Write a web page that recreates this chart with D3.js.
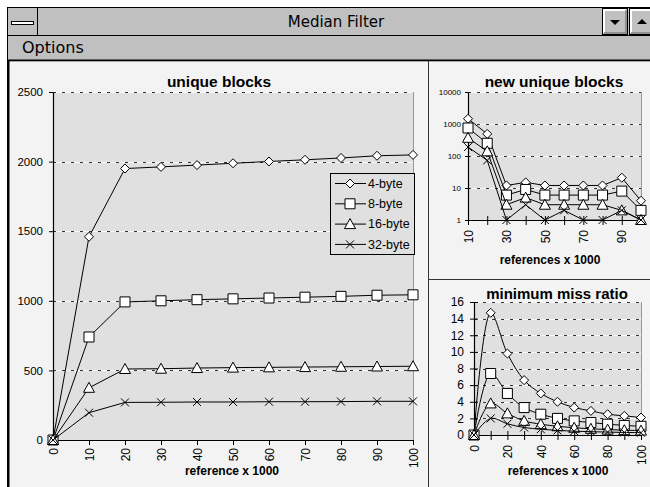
<!DOCTYPE html>
<html>
<head>
<meta charset="utf-8">
<script src="https://cdn.jsdelivr.net/npm/d3@7"></script>
<style>
  body { margin: 0; background: #fff; }
  svg { display: block; }
  text { font-family: "Liberation Sans", Arial, sans-serif; }
</style>
</head>
<body>
<div id="chart"></div>
<script>
// data
var refs = [0, 10, 20, 30, 40, 50, 60, 70, 80, 90, 100];
var blocks4 = [0, 1460, 1950, 1962, 1975, 1988, 2001, 2013, 2026, 2042, 2048];
var blocks8 = [0, 740, 992, 1000, 1008, 1014, 1020, 1026, 1032, 1040, 1043];
var blocks16 = [0, 375, 510, 512, 517, 520, 522, 524, 526, 528, 530];
var blocks32 = [0, 196, 270, 271, 273, 273, 275, 275, 276, 278, 278];

var newRefs = [10, 20, 30, 40, 50, 60, 70, 80, 90, 100];
var new4 = [1460, 490, 12, 15, 12, 12, 12, 12, 21, 4];
var new8 = [750, 250, 6, 9, 6, 6, 6, 6, 8, 2];
var new16 = [370, 140, 3, 5, 3, 3, 3, 3, 2, 1];
var new32 = [190, 73, 1, 3, 1, 2, 1, 1, 2, 1];

var miss4 = [0, 14.7, 9.8, 6.6, 5.0, 4.0, 3.3, 2.9, 2.5, 2.3, 2.1];
var miss8 = [0, 7.4, 5.0, 3.3, 2.5, 2.0, 1.7, 1.5, 1.3, 1.15, 1.05];
var miss16 = [0, 3.8, 2.6, 1.7, 1.3, 1.05, 0.87, 0.75, 0.65, 0.58, 0.53];
var miss32 = [0, 2.0, 1.35, 0.9, 0.7, 0.55, 0.46, 0.4, 0.35, 0.31, 0.28];

var seriesNames = ["4-byte", "8-byte", "16-byte", "32-byte"];
var shapes = ["diamond", "square", "triangle", "x"];

var blockTicks = [0, 500, 1000, 1500, 2000, 2500];
var logTicks = [1, 10, 100, 1000, 10000];
var missTicks = [0, 2, 4, 6, 8, 10, 12, 14, 16];

var width = 650;
var height = 487;
var plotFill = "#e0e0e0";
var paneFill = "#f3f3f3";
var chrome = "#c0c0c0";

var svg = d3
  .select("#chart")
  .append("svg")
  .attr("width", width)
  .attr("height", height);

// ---- window frame ----
svg.append("rect").attr("width", width).attr("height", height).attr("fill", "#fff");
svg.append("rect")
  .attr("x", 7.5).attr("y", 7.5).attr("width", 660).attr("height", 500)
  .attr("fill", chrome).attr("stroke", "#000");
svg.append("line").attr("x1", 7).attr("x2", width).attr("y1", 35.5).attr("y2", 35.5).attr("stroke", "#000");
svg.append("line").attr("x1", 37.5).attr("x2", 37.5).attr("y1", 8).attr("y2", 35).attr("stroke", "#000");
svg.append("rect")
  .attr("x", 11.5).attr("y", 21.5).attr("width", 22).attr("height", 3)
  .attr("fill", "#fff").attr("stroke", "#000");

svg.append("text")
  .attr("x", 336).attr("y", 27)
  .attr("text-anchor", "middle")
  .style("font-family", "'DejaVu Sans', sans-serif")
  .style("font-size", "15px")
  .text("Median Filter");

function button(x, up) {
  var b = svg.append("g").attr("transform", "translate(" + x + ",8)");
  b.append("rect").attr("x", 0.5).attr("y", 0.5).attr("width", 25).attr("height", 26)
    .attr("fill", chrome).attr("stroke", "#000");
  b.append("path").attr("d", "M2,25V2H24").attr("fill", "none").attr("stroke", "#fff").attr("stroke-width", 2);
  b.append("path").attr("d", "M2,25H24V2").attr("fill", "none").attr("stroke", "#808080").attr("stroke-width", 1.5);
  b.append("path")
    .attr("d", up ? "M8,16H18L13,11Z" : "M8,12H18L13,17Z")
    .attr("fill", "#000");
}
button(602, false);
button(629, true);

svg.append("text")
  .attr("x", 22).attr("y", 53)
  .style("font-family", "'DejaVu Sans', sans-serif")
  .style("font-size", "16px")
  .text("Options");

svg.append("rect").attr("x", 7).attr("y", 59.5).attr("width", 650).attr("height", 2).attr("fill", "#000");
svg.append("rect").attr("x", 9).attr("y", 61.5).attr("width", 641).attr("height", 430).attr("fill", paneFill);
svg.append("rect").attr("x", 7).attr("y", 60).attr("width", 2.5).attr("height", 430).attr("fill", "#000");
svg.append("line").attr("x1", 428.5).attr("x2", 428.5).attr("y1", 61).attr("y2", height).attr("stroke", "#333");
svg.append("line").attr("x1", 428).attr("x2", width).attr("y1", 279.5).attr("y2", 279.5).attr("stroke", "#333");

// ---- markers ----
function markerPath(shape, s) {
  if (shape === "diamond") return "M0," + -s + "L" + s + ",0L0," + s + "L" + -s + ",0Z";
  if (shape === "square") return "M" + -s + "," + -s + "H" + s + "V" + s + "H" + -s + "Z";
  if (shape === "triangle") return "M0," + (-s - 1) + "L" + (s + 1) + "," + s + "H" + (-s - 1) + "Z";
  return "M" + -s + "," + -s + "L" + s + "," + s + "M" + s + "," + -s + "L" + -s + "," + s;
}
var markerSize = { diamond: 4.5, square: 5, triangle: 4.5, x: 4 };

function drawSeries(g, xs, ys, x, y, shape, curve) {
  var pts = xs.map(function (d, i) { return [d, ys[i]]; });
  var line = d3.line()
    .x(function (d) { return x(d[0]); })
    .y(function (d) { return y(d[1]); });
  if (curve) line.curve(curve);
  g.append("path")
    .attr("d", line(pts))
    .attr("fill", "none")
    .attr("stroke", "#000")
    .attr("stroke-width", 1);
  g.selectAll(null)
    .data(pts)
    .enter()
    .append("path")
    .attr("transform", function (d) { return "translate(" + x(d[0]) + "," + y(d[1]) + ")"; })
    .attr("d", markerPath(shape, markerSize[shape]))
    .attr("fill", "#fff")
    .attr("stroke", "#000")
    .attr("stroke-width", 1);
}

function plotBack(x0, x1, y0, y1) {
  svg.append("rect")
    .attr("x", x0).attr("y", y1).attr("width", x1 - x0).attr("height", y0 - y1)
    .attr("fill", plotFill);
  svg.append("line")
    .attr("x1", x1 + 0.5).attr("x2", x1 + 0.5).attr("y1", y1).attr("y2", y0)
    .attr("stroke", "#999");
}

function grid(yScale, values, x0, x1) {
  values.forEach(function (v) {
    var yy = Math.round(yScale(v)) + 0.5;
    svg.append("line").attr("x1", x0).attr("x2", x1).attr("y1", yy).attr("y2", yy)
      .attr("stroke", "#fafafa");
    svg.append("line").attr("x1", x0).attr("x2", x1).attr("y1", yy).attr("y2", yy)
      .attr("stroke", "#333").attr("stroke-dasharray", "3,6");
  });
}

function styleAxis(a, size) {
  a.select(".domain").attr("stroke", "#000").attr("stroke-width", 1.2);
  a.selectAll(".tick line").attr("stroke", "#000");
  a.selectAll("text").style("font-size", size).attr("fill", "#000")
    .style("font-family", "'Liberation Sans', Arial, sans-serif");
}

function rotateLabels(a, gap) {
  a.selectAll(".tick text")
    .attr("transform", "rotate(-90)")
    .attr("text-anchor", "end")
    .attr("x", -gap)
    .attr("y", 0)
    .attr("dy", "0.35em");
}

function title(txt, x, y, size) {
  svg.append("text").attr("x", x).attr("y", y).attr("text-anchor", "middle")
    .style("font-weight", "bold").style("font-size", size).text(txt);
}

// ---- unique blocks ----
var x1 = d3.scaleLinear().domain([0, 100]).range([53, 413]);
var y1 = d3.scaleLinear().domain([0, 2500]).range([440, 92]);
plotBack(53, 413, 440, 92);
grid(y1, blockTicks.slice(1), 53, 413);

var ax = svg.append("g").attr("transform", "translate(0,440)")
  .call(d3.axisBottom(x1).tickValues(refs).tickSize(5).tickSizeOuter(0));
styleAxis(ax, "12px");
rotateLabels(ax, 8);
var ay = svg.append("g").attr("transform", "translate(53,0)")
  .call(d3.axisLeft(y1).tickValues(blockTicks).tickFormat(d3.format("d"))
    .tickSize(4).tickPadding(6).tickSizeOuter(0));
styleAxis(ay, "11.5px");

var g1 = svg.append("g");
[blocks4, blocks8, blocks16, blocks32].forEach(function (s, i) {
  drawSeries(g1, refs, s, x1, y1, shapes[i]);
});
title("unique blocks", 219, 87, "15.5px");
title("reference x 1000", 232, 475, "12px");

// legend
var lg = svg.append("g").attr("transform", "translate(330,173)");
lg.append("rect").attr("x", 0.5).attr("y", 0.5).attr("width", 84).attr("height", 81)
  .attr("fill", plotFill).attr("stroke", "#000");
seriesNames.forEach(function (name, i) {
  var yy = 10.5 + i * 20.3;
  lg.append("line").attr("x1", 5).attr("x2", 36).attr("y1", yy).attr("y2", yy).attr("stroke", "#000");
  lg.append("path").attr("transform", "translate(20," + yy + ")")
    .attr("d", markerPath(shapes[i], markerSize[shapes[i]]))
    .attr("fill", "#fff").attr("stroke", "#000");
  lg.append("text").attr("x", 38).attr("y", yy).attr("dy", "0.35em")
    .style("font-size", "12.5px").text(name);
});

// ---- new unique blocks ----
var x2 = d3.scaleLinear().domain([10, 100]).range([468, 641]);
var y2 = d3.scaleLog().domain([1, 10000]).range([220, 92]);
plotBack(468, 641, 220, 92);
grid(y2, logTicks.slice(1), 468, 641);
var bx = svg.append("g").attr("transform", "translate(0,220)")
  .call(d3.axisBottom(x2).tickValues(newRefs).tickSize(5).tickSizeOuter(0)
    .tickFormat(function (d, i) { return i % 2 === 0 ? d : ""; }));
styleAxis(bx, "12px");
bx.selectAll(".tick line").attr("y1", -4);
rotateLabels(bx, 10);
var by = svg.append("g").attr("transform", "translate(468,0)")
  .call(d3.axisLeft(y2).tickValues(logTicks).tickFormat(d3.format("d")).tickSize(3).tickPadding(4).tickSizeOuter(0));
styleAxis(by, "8px");
var g2 = svg.append("g");
[new4, new8, new16, new32].forEach(function (s, i) {
  drawSeries(g2, newRefs, s, x2, y2, shapes[i]);
});
title("new unique blocks", 554, 87, "15.5px");
title("references x 1000", 550, 264, "12px");

// ---- minimum miss ratio ----
var x3 = d3.scaleLinear().domain([0, 100]).range([474, 641]);
var y3 = d3.scaleLinear().domain([0, 16]).range([435, 302]);
plotBack(474, 641, 435, 302);
grid(y3, missTicks.slice(1), 474, 641);
var cx = svg.append("g").attr("transform", "translate(0,435)")
  .call(d3.axisBottom(x3).tickValues(refs).tickSize(5).tickSizeOuter(0)
    .tickFormat(function (d, i) { return i % 2 === 0 ? d : ""; }));
styleAxis(cx, "12px");
cx.selectAll(".tick line").attr("y1", -4);
rotateLabels(cx, 10);
var cy = svg.append("g").attr("transform", "translate(474,0)")
  .call(d3.axisLeft(y3).tickValues(missTicks).tickSize(4).tickPadding(6).tickSizeOuter(0));
styleAxis(cy, "12px");
cy.selectAll(".tick line").attr("x1", 4);
var g3 = svg.append("g");
[miss4, miss8, miss16, miss32].forEach(function (s, i) {
  drawSeries(g3, refs, s, x3, y3, shapes[i], d3.curveCatmullRom.alpha(0.5));
});
title("minimum miss ratio", 557, 299, "15px");
title("references x 1000", 558, 475, "12px");
</script>
</body>
</html>
